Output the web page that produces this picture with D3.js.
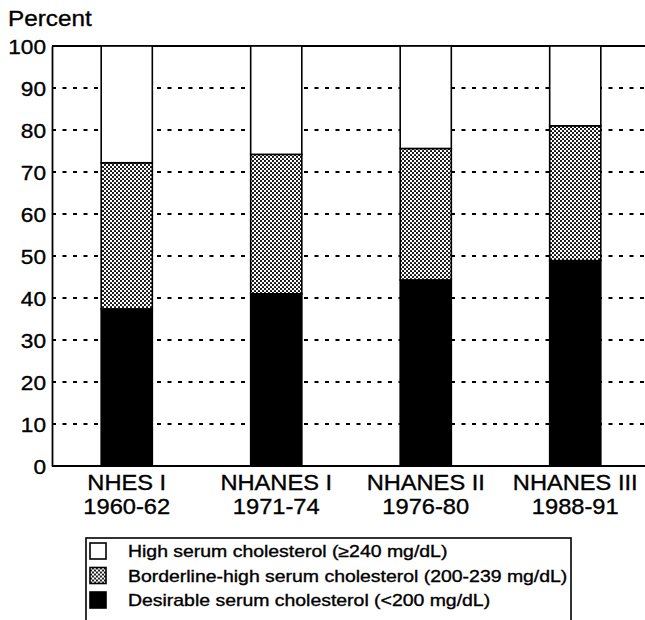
<!DOCTYPE html>
<html>
<head>
<meta charset="utf-8">
<script src="https://cdn.jsdelivr.net/npm/d3@7"></script>
<style>
  html, body { margin: 0; padding: 0; background: #fff; }
  svg { display: block; }
  text { font-family: "Liberation Sans", Arial, Helvetica, sans-serif; fill: #000; stroke: #000; stroke-width: 0.35; }
</style>
</head>
<body>
<script>
// ---- data ----
const surveys = ["NHES I", "NHANES I", "NHANES II", "NHANES III"];
const periods = ["1960-62", "1971-74", "1976-80", "1988-91"];
const desirable = [37.4, 41.0, 44.3, 48.9];
const borderline = [34.8, 33.2, 31.3, 32.1];
const high = [27.8, 25.8, 24.4, 19.0];
const yTicks = [0, 10, 20, 30, 40, 50, 60, 70, 80, 90, 100];
const legendLabels = [
  "High serum cholesterol (\u2265240 mg/dL)",
  "Borderline-high serum cholesterol (200-239 mg/dL)",
  "Desirable serum cholesterol (<200 mg/dL)"
];
const yTitle = "Percent";

// ---- layout ----
const W = 645, H = 620;
const plot = { left: 52, right: 650, top: 46, bottom: 466 };
const stretch = 1.08;

const svg = d3.select("body").append("svg").attr("width", W).attr("height", H);

const defs = svg.append("defs");
const pat = defs.append("pattern").attr("id", "stipple")
  .attr("patternUnits", "userSpaceOnUse").attr("width", 4).attr("height", 4);
pat.append("rect").attr("width", 4).attr("height", 4).attr("fill", "#fff");
pat.append("circle").attr("cx", 1).attr("cy", 1).attr("r", 1.05).attr("fill", "#000");
pat.append("circle").attr("cx", 3).attr("cy", 3).attr("r", 1.05).attr("fill", "#000");

const fills = { desirable: "#000", borderline: "url(#stipple)", high: "#fff" };

const x = d3.scalePoint().domain(surveys).range([plot.left, plot.right]).padding(0.5);
const barW = x.step() * 0.342;
const y = d3.scaleLinear().domain([0, 100]).range([plot.bottom, plot.top]);

// gridlines
svg.append("g").selectAll("line").data(yTicks.filter(t => t > 0 && t < 100)).join("line")
  .attr("x1", plot.left).attr("x2", W)
  .attr("y1", d => y(d)).attr("y2", d => y(d))
  .attr("stroke", "#000").attr("stroke-width", 2)
  .attr("stroke-dasharray", "4,6.5");

// top line
svg.append("line").attr("x1", plot.left).attr("x2", W)
  .attr("y1", y(100)).attr("y2", y(100)).attr("stroke", "#000").attr("stroke-width", 1.8);

// stacked bars
const rows = surveys.map((s, i) => ({ survey: s, desirable: desirable[i], borderline: borderline[i], high: high[i] }));
const stack = d3.stack().keys(["desirable", "borderline", "high"])(rows);
const layers = svg.append("g").selectAll("g").data(stack).join("g")
  .attr("fill", d => fills[d.key]);
layers.selectAll("rect").data(d => d).join("rect")
  .attr("x", d => x(d.data.survey) - barW / 2)
  .attr("width", barW)
  .attr("y", d => y(Math.min(d[1], 100)))
  .attr("height", d => y(d[0]) - y(Math.min(d[1], 100)))
  .attr("stroke", "#000").attr("stroke-width", 1.6);

// y axis
const yAxis = d3.axisLeft(y).tickValues(yTicks).tickSize(0).tickPadding(0);
const ga = svg.append("g").attr("transform", `translate(${plot.left},0)`).call(yAxis);
ga.select(".domain").attr("stroke", "#000").attr("stroke-width", 1.8);
ga.selectAll(".tick text")
  .attr("font-size", 21).attr("x", 0).attr("dy", "0.35em")
  .attr("text-anchor", "end")
  .attr("transform", `translate(-6,0) scale(${stretch},1)`);

// bottom axis line
svg.append("line").attr("x1", plot.left).attr("x2", W)
  .attr("y1", plot.bottom).attr("y2", plot.bottom).attr("stroke", "#000").attr("stroke-width", 1.8);

// x labels (two lines)
const xl = svg.append("g").selectAll("g").data(surveys).join("g")
  .attr("transform", d => `translate(${x(d)},0)`);
xl.append("text").attr("text-anchor", "middle").attr("font-size", 21.5)
  .attr("transform", `translate(0,489.5) scale(${stretch + 0.02},1)`).text(d => d);
xl.append("text").attr("text-anchor", "middle").attr("font-size", 21.5)
  .attr("transform", `translate(0,513.5) scale(${stretch + 0.02},1)`).text((d, i) => periods[i]);

// y title
svg.append("text").attr("font-size", 22.5)
  .attr("transform", `translate(8,26) scale(${stretch},1)`).text(yTitle);

// legend
const lg = svg.append("g");
lg.append("rect").attr("x", 86).attr("y", 538).attr("width", 485).attr("height", 120)
  .attr("fill", "none").attr("stroke", "#000").attr("stroke-width", 1.6);
const legFills = [fills.high, fills.borderline, fills.desirable];
const li = lg.selectAll("g.item").data(legendLabels).join("g").attr("class", "item")
  .attr("transform", (d, i) => `translate(0,${551 + i * 24.5})`);
li.append("rect").attr("x", 90).attr("y", -8).attr("width", 16).attr("height", 16)
  .attr("fill", (d, i) => legFills[i]).attr("stroke", "#000").attr("stroke-width", 1.6);
li.append("text").attr("font-size", 16.2)
  .attr("transform", `translate(128,6) scale(1.2,1)`).text(d => d);
</script>
</body>
</html>
